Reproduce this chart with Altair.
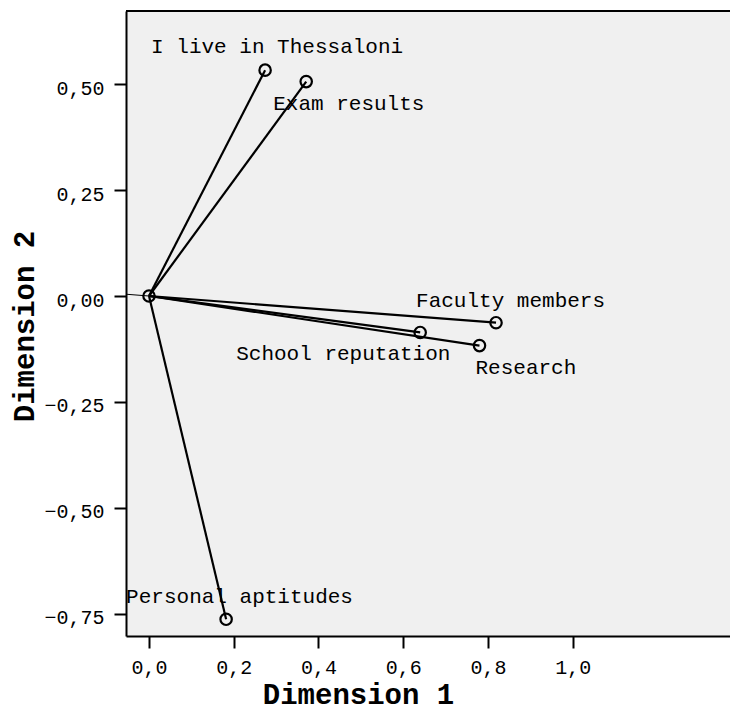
import altair as alt
import pandas as pd

# ---- data ----
variables = ["I live in Thessaloni", "Exam results", "Faculty members",
             "School reputation", "Research", "Personal aptitudes"]
dim1 = [0.274, 0.371, 0.819, 0.640, 0.780, 0.182]
dim2 = [0.533, 0.506, -0.063, -0.086, -0.117, -0.763]

x_ticks = [0.0, 0.2, 0.4, 0.6, 0.8, 1.0]
y_ticks = [-0.75, -0.50, -0.25, 0.0, 0.25, 0.50]

X_DOMAIN = [-0.0543, 1.3712]
Y_DOMAIN = [-0.8024, 0.6726]

# ---- style ----
FONT = "Liberation Mono"
PLOT_W, PLOT_H = 604, 625
label_offsets = {
    "I live in Thessaloni": (-114, -17),
    "Exam results": (-33, 28),
    "Faculty members": (-80, -16),
    "School reputation": (-184, 28),
    "Research": (-4, 28),
    "Personal aptitudes": (-100, -16),
}
BACK_EXT = 0.07  # thin line continuing behind the origin

df = pd.DataFrame({"variable": variables, "dim1": dim1, "dim2": dim2})
df["x0"] = 0.0
df["y0"] = 0.0
origin = pd.DataFrame({"dim1": [0.0], "dim2": [0.0]})
fac = df[df.variable == "Faculty members"].iloc[0]
ext = pd.DataFrame({"x0": [0.0], "y0": [0.0],
                    "x1": [-BACK_EXT * fac.dim1], "y1": [-BACK_EXT * fac.dim2]})

xscale = alt.Scale(domain=X_DOMAIN, nice=False, zero=False)
yscale = alt.Scale(domain=Y_DOMAIN, nice=False, zero=False)
xaxis = alt.Axis(values=x_ticks, title="Dimension 1", grid=False,
                 labelExpr="replace(format(datum.value, '.1f'), '.', ',')",
                 labelPadding=9, titleX=232, titleY=67, titleAlign="center",
                 titleBaseline="alphabetic", titleAnchor="start")
yaxis = alt.Axis(values=y_ticks, title="Dimension 2", grid=False,
                 labelExpr="replace(format(datum.value, '.2f'), '.', ',')",
                 labelPadding=10, labelOffset=4, titleX=-92.5, titleY=315,
                 titleAngle=-90, titleAlign="center", titleBaseline="alphabetic",
                 titleAnchor="start")

X = lambda f: alt.X(f, type="quantitative", scale=xscale, axis=xaxis)
Y = lambda f: alt.Y(f, type="quantitative", scale=yscale, axis=yaxis)

thin = alt.Chart(ext).mark_rule(color="black", strokeWidth=1, clip=True).encode(
    x=X("x0"), y=Y("y0"), x2="x1", y2="y1")

vectors = alt.Chart(df).mark_rule(color="black", strokeWidth=2.2).encode(
    x=X("x0"), y=Y("y0"), x2="dim1", y2="dim2")

pts = alt.Chart(df).mark_point(shape="circle", filled=False, size=130,
                               strokeWidth=2.2, color="black", opacity=1).encode(
    x=X("dim1"), y=Y("dim2"))

org = alt.Chart(origin).mark_point(shape="circle", filled=False, size=130,
                                   strokeWidth=2.2, color="black", opacity=1).encode(
    x=X("dim1"), y=Y("dim2"))

labels = []
for name in variables:
    dx, dy = label_offsets[name]
    labels.append(
        alt.Chart(df).transform_filter(alt.datum.variable == name)
        .mark_text(align="left", baseline="alphabetic", dx=dx, dy=dy,
                   font=FONT, fontSize=21, color="black")
        .encode(x=X("dim1"), y=Y("dim2"), text="variable:N"))

top_border = alt.Chart(origin).mark_rule(color="black", strokeWidth=2).encode(
    x=alt.value(0), x2=alt.value(PLOT_W), y=alt.value(0))

chart = alt.layer(thin, vectors, pts, org, *labels, top_border).properties(
    width=PLOT_W, height=PLOT_H, autosize="none",
    padding={"left": 118, "top": 3, "right": 0, "bottom": 75},
    background="white",
).configure_view(fill="#f0f0f0", stroke=None).configure_axis(
    domainColor="black", domainWidth=2, tickColor="black", tickWidth=2,
    tickSize=12, labelFont=FONT, labelFontSize=20, labelColor="black",
    titleFont=FONT, titleFontSize=29, titleFontWeight="bold", titleColor="black",
)

chart.save("out.html", embed_options={"renderer": "svg", "actions": False})
